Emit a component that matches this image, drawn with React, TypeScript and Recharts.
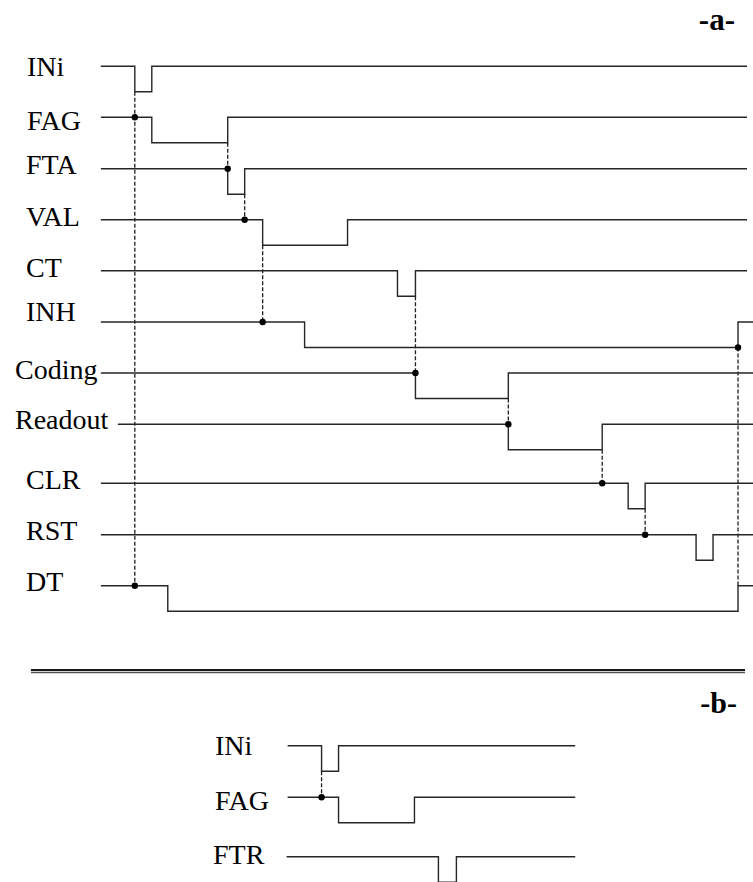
import React from "react";
import { ComposedChart, Line, XAxis, YAxis } from "recharts";

// ---- part a: signal names, rest (high) level on the y scale, transition times
const aNames = ["INi", "FAG", "FTA", "VAL", "CT", "INH", "Coding", "Readout", "CLR", "RST", "DT"];
const aHigh = [66.3, 117.3, 168.7, 219.7, 270.7, 322, 373, 424.3, 483.3, 534.7, 585.7];
const aStart = [100, 100, 100, 100, 100, 100, 100, 117, 100, 100, 100];
const aEnd = [747, 747, 747, 747, 747, 753, 753, 753, 753, 753, 753];
const aEdges = [
  [134, 151],
  [151, 227],
  [227, 244],
  [262, 347],
  [397, 415],
  [304, 738],
  [415, 508],
  [508, 602],
  [628, 645],
  [696, 713],
  [167, 738],
];
const aLabelBase = [76, 130, 174, 226, 276.7, 320.7, 379.3, 429.3, 489.3, 540, 591];

// causal links: [time, from signal (low level), to signal (high level)]
const aLinks: [number, number, number][] = [
  [134, 0, 10],
  [227, 1, 2],
  [244, 2, 3],
  [262, 3, 5],
  [415, 4, 6],
  [508, 6, 7],
  [602, 7, 8],
  [645, 8, 9],
  [738, 5, 10],
];
// dots: [time, signal, level] (1 = high, 0 = low)
const aDots: [number, number, number][] = [
  [134, 1, 1],
  [134, 10, 1],
  [227, 2, 1],
  [244, 3, 1],
  [262, 5, 1],
  [415, 6, 1],
  [508, 7, 1],
  [602, 8, 1],
  [645, 9, 1],
  [738, 5, 0],
];

// ---- part b
const bNames = ["INi", "FAG", "FTR"];
const bHigh = [745.7, 797.3, 856.7];
const bStart = [287, 287, 286];
const bEnd = [575, 575, 575];
const bEdges = [
  [321, 338],
  [338, 414],
  [438, 456],
];
const bLabelBase = [755, 810, 864];
const bLinks: [number, number, number][] = [[321, 0, 1]];
const bDots: [number, number, number][] = [[321, 1, 1]];

const DEPTH = 25.5;
const separator = [670, 672.5];

const labelX: Record<string, number> = {
  "a-INi": 27, "a-FAG": 27, "a-FTA": 26, "a-VAL": 26, "a-CT": 26, "a-INH": 26,
  "a-Coding": 15, "a-Readout": 15, "a-CLR": 26, "a-RST": 26, "a-DT": 26,
  "b-INi": 215, "b-FAG": 215, "b-FTR": 213,
};

type Pt = { t: number; v: number };

function trace(high: number, start: number, end: number, edges: number[]): Pt[] {
  const pts: Pt[] = [{ t: start, v: high }];
  let low = false;
  edges.forEach((e) => {
    low = !low;
    pts.push({ t: e, v: low ? high + DEPTH : high });
  });
  pts.push({ t: end, v: low ? high + DEPTH : high });
  return pts;
}

const traces = [
  ...aNames.map((n, i) => ({ key: "a-" + n, pts: trace(aHigh[i], aStart[i], aEnd[i], aEdges[i]) })),
  ...bNames.map((n, i) => ({ key: "b-" + n, pts: trace(bHigh[i], bStart[i], bEnd[i], bEdges[i]) })),
];

const links = [
  ...aLinks.map(([t, f, to]) => [{ t, v: aHigh[f] + DEPTH }, { t, v: aHigh[to] }]),
  ...bLinks.map(([t, f, to]) => [{ t, v: bHigh[f] + DEPTH }, { t, v: bHigh[to] }]),
];

const dots = [
  ...aDots.map(([t, s, lv]) => ({ t, v: lv ? aHigh[s] : aHigh[s] + DEPTH })),
  ...bDots.map(([t, s, lv]) => ({ t, v: lv ? bHigh[s] : bHigh[s] + DEPTH })),
];

const labels = [
  ...aNames.map((n, i) => ({ key: "a-" + n, text: n, y: aLabelBase[i] })),
  ...bNames.map((n, i) => ({ key: "b-" + n, text: n, y: bLabelBase[i] })),
];
const tickValues = labels.map((l) => l.y);

const FONT = "'Liberation Serif', 'Times New Roman', serif";

const renderLabel = (props: any) => {
  const { y, index } = props;
  const lab = labels[index];
  if (!lab) return <g />;
  return (
    <text x={labelX[lab.key]} y={y} fontFamily={FONT} fontSize={28} fill="#000">
      {lab.text}
    </text>
  );
};

const renderDot = (props: any) => (
  <circle key={"d" + props.index} cx={props.cx} cy={props.cy} r={3.2} fill="#000" />
);

export default function App() {
  return (
    <div style={{ position: "absolute", left: 0, top: 0, width: 753, height: 882, background: "#fff" }}>
      <ComposedChart width={753} height={882} margin={{ top: 0, right: 0, bottom: 0, left: 0 }}>
        <XAxis type="number" dataKey="t" domain={[0, 753]} hide allowDataOverflow />
        <YAxis
          type="number"
          domain={[0, 882]}
          reversed
          width={1}
          ticks={tickValues}
          interval={0}
          axisLine={false}
          tickLine={false}
          tick={renderLabel}
          allowDataOverflow
        />
        {separator.map((y, i) => (
          <Line
            key={"sep" + i}
            data={[{ t: 30, v: y }, { t: 745, v: y }]}
            dataKey="v"
            type="linear"
            stroke={i === 0 ? "#1a1a1a" : "#555"}
            strokeWidth={i === 0 ? 1.8 : 1.3}
            dot={false}
            activeDot={false}
            isAnimationActive={false}
          />
        ))}
        {links.map((d, i) => (
          <Line
            key={"lk" + i}
            data={d}
            dataKey="v"
            type="linear"
            stroke="#1f1f1f"
            strokeWidth={1.3}
            strokeDasharray="4 2"
            dot={false}
            activeDot={false}
            isAnimationActive={false}
          />
        ))}
        {traces.map((tr) => (
          <Line
            key={tr.key}
            data={tr.pts}
            dataKey="v"
            type="stepAfter"
            stroke="#262626"
            strokeWidth={1.4}
            dot={false}
            activeDot={false}
            isAnimationActive={false}
          />
        ))}
        <Line
          data={dots}
          dataKey="v"
          type="linear"
          stroke="none"
          dot={renderDot}
          activeDot={false}
          isAnimationActive={false}
        />
      </ComposedChart>
      <svg
        width={753}
        height={882}
        style={{ position: "absolute", left: 0, top: 0, pointerEvents: "none" }}
      >
        <text x={735} y={30} textAnchor="end" fontFamily={FONT} fontWeight="bold" fontSize={31} fill="#000">
          -a-
        </text>
        <text x={737} y={713} textAnchor="end" fontFamily={FONT} fontWeight="bold" fontSize={30} fill="#000">
          -b-
        </text>
      </svg>
    </div>
  );
}
